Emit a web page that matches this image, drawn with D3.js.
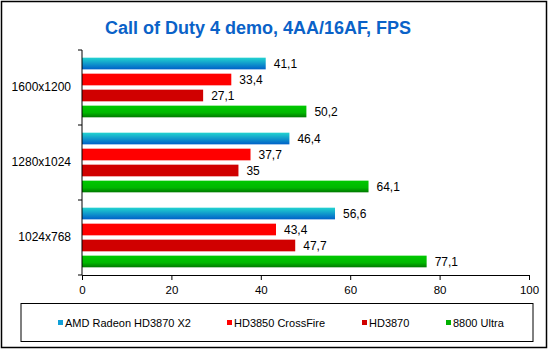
<!DOCTYPE html>
<html>
<head>
<meta charset="utf-8">
<script src="https://cdn.jsdelivr.net/npm/d3@7"></script>
<style>
  body { margin: 0; background: #fff; }
  text { font-family: Arial, "Liberation Sans", sans-serif; }
</style>
</head>
<body>
<div id="chart-area"></div>
<script>
var outerWidth = 550;
var outerHeight = 350;

// data
var categories = ["1600x1200", "1280x1024", "1024x768"];
var seriesNames = ["AMD Radeon HD3870 X2", "HD3850 CrossFire", "HD3870", "8800 Ultra"];
var x2Values = [41.1, 46.4, 56.6];
var cfValues = [33.4, 37.7, 43.4];
var hd3870Values = [27.1, 35, 47.7];
var ultraValues = [50.2, 64.1, 77.1];
var xTicks = [0, 20, 40, 60, 80, 100];

var seriesValues = [x2Values, cfValues, hd3870Values, ultraValues];
var fills = ["url(#gradBlue)", "#ff0000", "#d00000", "url(#gradGreen)"];
var legendColors = ["#10a0d8", "#ff0000", "#d00000", "#00b000"];

var margin = { left: 82, right: 21, top: 50, bottom: 75 };
var width = outerWidth - margin.left - margin.right;
var height = outerHeight - margin.top - margin.bottom;

var svg = d3.select("#chart-area")
  .append("svg")
  .attr("width", outerWidth)
  .attr("height", outerHeight);

// gradients for bars
var defs = svg.append("defs");
var gb = defs.append("linearGradient").attr("id", "gradBlue")
  .attr("x1", 0).attr("y1", 0).attr("x2", 0).attr("y2", 1);
gb.append("stop").attr("offset", "0%").attr("stop-color", "#22d4d0");
gb.append("stop").attr("offset", "100%").attr("stop-color", "#0060c8");
var gg = defs.append("linearGradient").attr("id", "gradGreen")
  .attr("x1", 0).attr("y1", 0).attr("x2", 0).attr("y2", 1);
gg.append("stop").attr("offset", "0%").attr("stop-color", "#00c800");
gg.append("stop").attr("offset", "60%").attr("stop-color", "#00b800");
gg.append("stop").attr("offset", "100%").attr("stop-color", "#007800");

// outer frame
svg.append("rect")
  .attr("x", 1.5).attr("y", 1.5)
  .attr("width", 545).attr("height", 346)
  .attr("fill", "none")
  .attr("stroke", "#000")
  .attr("stroke-width", 1.5);

// title
svg.append("text")
  .attr("x", 258)
  .attr("y", 34)
  .attr("text-anchor", "middle")
  .attr("font-size", "18px")
  .attr("font-weight", "bold")
  .attr("fill", "#0a62c8")
  .text("Call of Duty 4 demo, 4AA/16AF, FPS");

var g = svg.append("g")
  .attr("transform", "translate(" + margin.left + "," + margin.top + ")");

var x = d3.scaleLinear().domain([0, 100]).range([0, width]);

var y = d3.scaleBand().domain(categories).range([0, height]).padding(0);

var ySub = d3.scaleBand()
  .domain(d3.range(seriesNames.length))
  .range([0, y.bandwidth()])
  .paddingInner(0.27)
  .paddingOuter(0.48);

// bars
var groups = g.selectAll("g.cat")
  .data(categories)
  .enter()
  .append("g")
  .attr("class", "cat")
  .attr("transform", function(d) { return "translate(0," + y(d) + ")"; });

groups.each(function(cat, ci) {
  var grp = d3.select(this);
  seriesValues.forEach(function(vals, si) {
    grp.append("rect")
      .attr("x", 0)
      .attr("y", ySub(si))
      .attr("width", x(vals[ci]))
      .attr("height", ySub.bandwidth())
      .attr("fill", fills[si]);
    grp.append("text")
      .attr("x", x(vals[ci]) + 8)
      .attr("y", ySub(si) + ySub.bandwidth() / 2)
      .attr("dy", "0.35em")
      .attr("font-size", "12px")
      .attr("fill", "#000")
      .text(String(vals[ci]).replace(".", ","));
  });
});

// bottom axis
var xAxis = d3.axisBottom(x)
  .tickValues(xTicks)
  .tickSize(5)
  .tickSizeOuter(0)
  .tickPadding(6);

var xg = g.append("g")
  .attr("transform", "translate(0," + height + ")")
  .call(xAxis);
xg.selectAll("text").attr("font-size", "11.5px").attr("fill", "#000")
  .attr("font-family", "Arial, 'Liberation Sans', sans-serif");
xg.select(".domain").attr("stroke", "#000");

// left axis: labels centred in bands, ticks at band boundaries
var yAxis = d3.axisLeft(y).tickSize(0).tickPadding(11);
var yg = g.append("g").call(yAxis);
yg.selectAll("text").attr("font-size", "12px").attr("fill", "#000")
  .attr("font-family", "Arial, 'Liberation Sans', sans-serif");
yg.select(".domain").remove();

g.append("line")
  .attr("x1", 0).attr("x2", 0)
  .attr("y1", 0).attr("y2", height)
  .attr("stroke", "#000");

var bounds = categories.map(function(c) { return y(c); }).concat([height]);
g.selectAll("line.ytick")
  .data(bounds)
  .enter()
  .append("line")
  .attr("class", "ytick")
  .attr("x1", -4).attr("x2", 0)
  .attr("y1", function(d) { return d; })
  .attr("y2", function(d) { return d; })
  .attr("stroke", "#000");

// legend
var legend = svg.append("g");
legend.append("rect")
  .attr("x", 21).attr("y", 303.5)
  .attr("width", 512).attr("height", 38)
  .attr("fill", "none")
  .attr("stroke", "#000");

var legendX = [58, 227, 362, 446];
seriesNames.forEach(function(name, i) {
  legend.append("rect")
    .attr("x", legendX[i])
    .attr("y", 320)
    .attr("width", 5)
    .attr("height", 5)
    .attr("fill", legendColors[i]);
  legend.append("text")
    .attr("x", legendX[i] + 7)
    .attr("y", 323)
    .attr("dy", "0.35em")
    .attr("font-size", "11px")
    .attr("fill", "#000")
    .text(name);
});
</script>
</body>
</html>
